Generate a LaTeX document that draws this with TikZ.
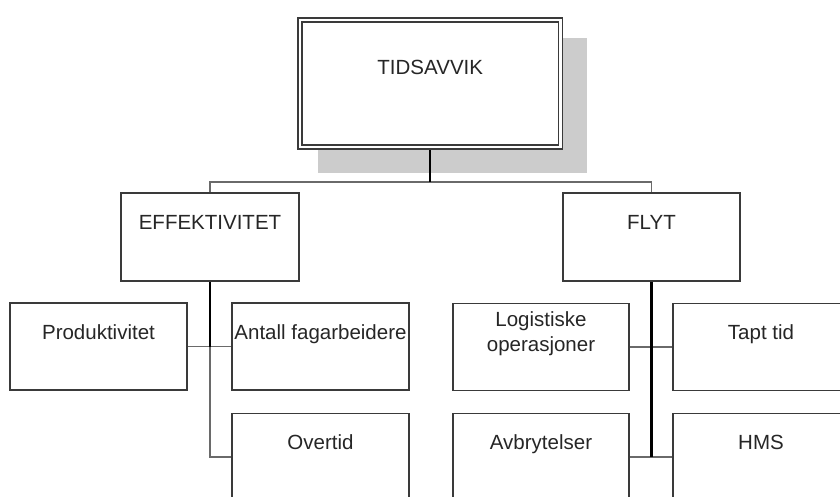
\documentclass[tikz,border=0pt]{standalone}
\usepackage{fontspec}
\setmainfont{Liberation Sans}
\usetikzlibrary{backgrounds,calc}
\definecolor{boxline}{HTML}{3A3A3A}
\definecolor{txt}{HTML}{262626}
\definecolor{shadowgray}{HTML}{CCCCCC}
\definecolor{linkgray}{HTML}{6A6A6A}
\tikzset{
  unit/.style={draw=boxline, line width=1.5pt, fill=white, inner sep=0pt,
    minimum width=177pt, minimum height=87pt},
  topunit/.style={draw=boxline, line width=1.8pt, double=white, double distance=2.2pt,
    fill=white, inner sep=0pt, minimum width=260.5pt, minimum height=126.5pt},
  boxtext/.style={anchor=base, text=txt, font=\fontsize{20.5}{24.6}\selectfont, inner sep=0pt},
  link/.style={draw=linkgray, line width=1.8pt},
  trunk/.style={draw=black, line width=2.4pt},
}
\begin{document}
\begin{tikzpicture}[x=1pt, y=-1pt]
\clip (0,0) rectangle (840,496);

% root
\node[topunit, label={[boxtext, yshift=-55pt]north:TIDSAVVIK}] (T) at (430.25,83.5) {};

% second level
\node[unit, minimum width=178pt, minimum height=88pt,
      label={[boxtext, yshift=-37pt]north:EFFEKTIVITET}] (E) at (210,237) {};
\node[unit, minimum height=88pt,
      label={[boxtext, yshift=-37pt]north:FLYT}] (F) at (651.5,237) {};

% third level, left branch
\node[unit, label={[boxtext, yshift=-37pt]north:Produktivitet}] (P) at (98.5,346.5) {};
\node[unit, label={[boxtext, yshift=-37pt]north:Antall fagarbeidere}] (A) at (320.5,346.5) {};
\node[unit, label={[boxtext, yshift=-37pt]north:Overtid}] (O) at (320.5,457) {};

% third level, right branch
\node[unit, minimum width=176pt,
      label={[boxtext, yshift=-24pt]north:Logistiske},
      label={[boxtext, yshift=-49pt]north:operasjoner}] (L) at (541,347) {};
\node[unit, minimum width=176pt, label={[boxtext, yshift=-37pt]north:Tapt tid}] (Tt) at (761,347) {};
\node[unit, minimum width=176pt, label={[boxtext, yshift=-37pt]north:Avbrytelser}] (Av) at (541,457) {};
\node[unit, minimum width=176pt, label={[boxtext, yshift=-37pt]north:HMS}] (H) at (761,457) {};

\begin{scope}[on background layer]
  % drop shadow of the root box
  \fill[shadowgray] ($(T.north west)+(19,19)$) rectangle ($(T.south east)+(25.5,25.5)$);
  % connectors, one per child
  \draw[link] (T.south) |- ([yshift=10pt]E.north) -- (E.north);
  \draw[link] (T.south) |- ([yshift=10pt]F.north) -- (F.north);
  \draw[link] (E.south) |- (P.east);
  \draw[link] (E.south) |- (A.west);
  \draw[link] (E.south) |- (O.west);
  \draw[link] (F.south) |- (L.east);
  \draw[link] (F.south) |- (Tt.west);
  \draw[link] (F.south) |- (Av.east);
  \draw[link] (F.south) |- (H.west);
  % shared stems where several connectors run together
  \draw[trunk, line width=1.8pt] (T.south) -- ([yshift=10pt]T.south |- E.north);
  \draw[trunk] (E.south) -- (E.south |- P.east);
  \draw[trunk] (F.south) -- (F.south |- Av.east);
\end{scope}
\end{tikzpicture}
\end{document}
